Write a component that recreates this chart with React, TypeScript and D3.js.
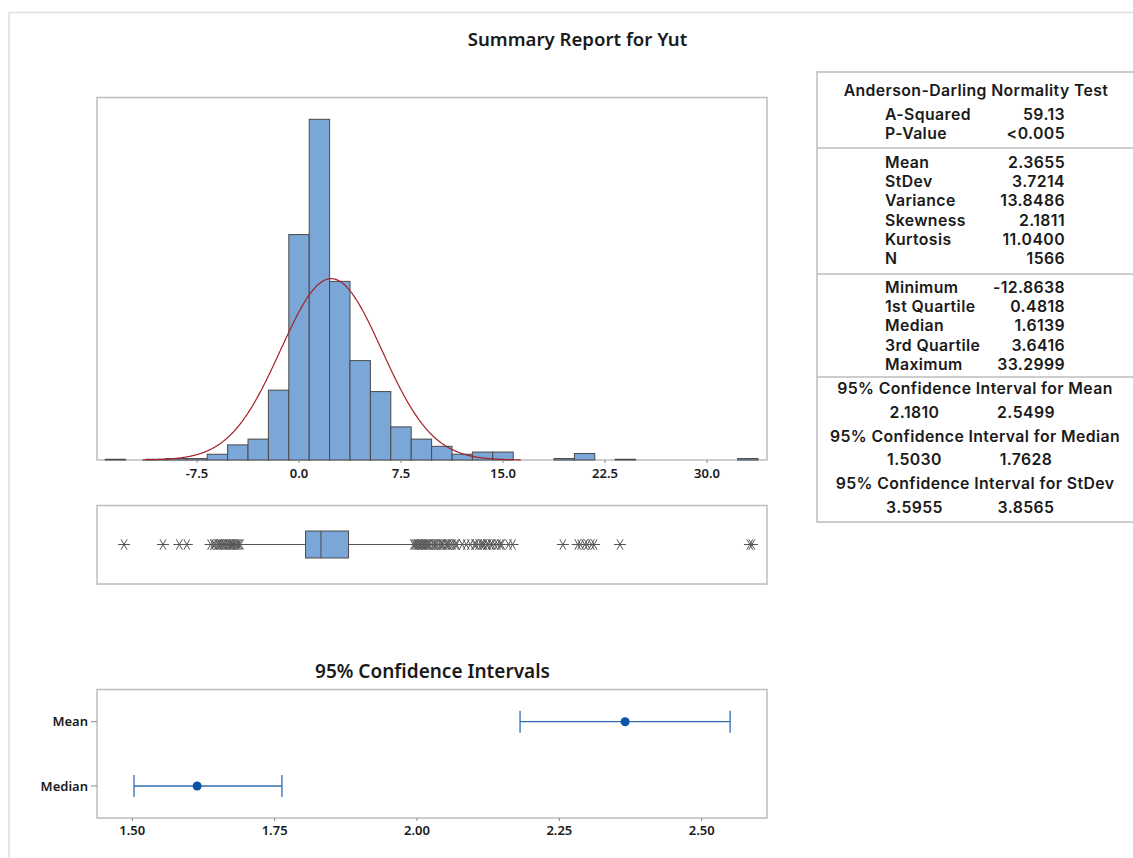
import React from "react";
import * as d3 from "d3";

// ---------- data ----------
const binCenters = [-13.5, -12, -10.5, -9, -7.5, -6, -4.5, -3, -1.5, 0, 1.5, 3, 4.5, 6, 7.5, 9, 10.5, 12, 13.5, 15, 16.5, 18, 19.5, 21, 22.5, 24, 25.5, 27, 28.5, 30, 31.5, 33];
const binCounts = [1, 0, 1, 2, 2, 8, 21, 29, 97, 313, 473, 248, 138, 95, 46, 29, 19, 8, 11, 11, 0, 0, 2, 9, 0, 1, 0, 0, 0, 0, 0, 2];
const binWidth = 1.5;
const histTicks = [-7.5, 0, 7.5, 15, 22.5, 30];

const statMean = 2.3655;
const statStDev = 3.7214;
const statN = 1566;
const q1 = 0.4818;
const medianVal = 1.6139;
const q3 = 3.6416;
const whiskerLow = -4.25;
const whiskerHigh = 8.35;

const lowOutliers = [-12.86, -10.0, -8.8, -8.25, -6.5, -6.3, -6.2, -6.0, -5.9, -5.8, -5.75, -5.6, -5.5, -5.45, -5.3, -5.2, -5.1, -5.0, -4.9, -4.85, -4.7, -4.6, -4.5, -4.4, -4.3];
const highOutliers = [8.4, 8.5, 8.6, 8.7, 8.8, 8.9, 9.0, 9.1, 9.2, 9.3, 9.4, 9.5, 9.6, 9.75, 9.9, 10.0, 10.1, 10.25, 10.4, 10.5, 10.6, 10.8, 10.9, 11.0, 11.15, 11.3, 11.5, 11.6, 12.0, 12.3, 12.6, 12.9, 13.0, 13.2, 13.4, 13.5, 13.6, 13.8, 13.9, 14.1, 14.2, 14.4, 14.6, 14.8, 14.9, 15.4, 15.7, 19.4, 20.5, 20.7, 21.0, 21.2, 21.5, 21.7, 23.6, 33.15, 33.3];

const ciNames = ["Mean", "Median"];
const ciLow = [2.181, 1.503];
const ciHigh = [2.5499, 1.7628];
const ciPoint = [2.3655, 1.6139];
const ciTicks = [1.5, 1.75, 2.0, 2.25, 2.5];

const adRows = [["A-Squared", "59.13"], ["P-Value", "<0.005"]];
const momentRows = [["Mean", "2.3655"], ["StDev", "3.7214"], ["Variance", "13.8486"], ["Skewness", "2.1811"], ["Kurtosis", "11.0400"], ["N", "1566"]];
const quantRows = [["Minimum", "-12.8638"], ["1st Quartile", "0.4818"], ["Median", "1.6139"], ["3rd Quartile", "3.6416"], ["Maximum", "33.2999"]];
const ciTableTitles = ["95% Confidence Interval for Mean", "95% Confidence Interval for Median", "95% Confidence Interval for StDev"];
const ciTableLow = ["2.1810", "1.5030", "3.5955"];
const ciTableHigh = ["2.5499", "1.7628", "3.8565"];

// ---------- style ----------
const FONT = "'Segoe UI', 'Noto Sans', 'Open Sans', sans-serif";
const TABLE_FONT = "Inter, 'Noto Sans', sans-serif";
const TXT = "#1a1a1a";
const FRAME = "#bdbdbd";
const BAR_FILL = "#7ba7d8";
const BAR_STROKE = "#4a4a4a";

function Asterisk({ x, y }: { x: number; y: number }) {
  const r = 6;
  const dx = r * Math.cos(Math.PI / 3);
  const dy = r * Math.sin(Math.PI / 3);
  return (
    <g stroke="#555" strokeWidth={1} fill="none">
      <line x1={x - r} y1={y} x2={x + r} y2={y} />
      <line x1={x - dx} y1={y - dy} x2={x + dx} y2={y + dy} />
      <line x1={x - dx} y1={y + dy} x2={x + dx} y2={y - dy} />
    </g>
  );
}

export default function App() {
  // histogram geometry
  const hx = d3.scaleLinear().domain([-14.853, 34.41]).range([97, 767]);
  const hy = d3.scaleLinear().domain([0, 504]).range([460, 97]);

  const pdfScale = statN * binWidth;
  const curvePts = d3.range(-11.5, 16.35, 0.05).map((v) => {
    const z = (v - statMean) / statStDev;
    const dens = Math.exp(-0.5 * z * z) / (statStDev * Math.sqrt(2 * Math.PI));
    return [v, dens * pdfScale] as [number, number];
  });
  const curve = d3
    .line<[number, number]>()
    .x((d) => hx(d[0]))
    .y((d) => hy(d[1]))
    .curve(d3.curveBasis)(curvePts);

  // boxplot
  const boxTop = 531;
  const boxBot = 558;
  const boxMid = (boxTop + boxBot) / 2;

  // CI plot
  const cx = d3.scaleLinear().domain([1.438, 2.6147]).range([97, 767]);
  const cy = d3.scalePoint<string>().domain(ciNames).range([721.7, 786]);

  const labelX = 885;
  const valueX = 1065;
  const rowText = (rows: string[][], startY: number) =>
    rows.map((r, i) => (
      <g key={r[0]}>
        <text x={labelX} y={startY + i * 19.2}>{r[0]}</text>
        <text x={valueX} y={startY + i * 19.2} textAnchor="end">{r[1]}</text>
      </g>
    ));

  return (
    <svg
      width={1133}
      height={858}
      style={{ position: "absolute", left: 0, top: 0, background: "#fff" }}
      fontFamily={FONT}
    >
      <rect x={0} y={0} width={1133} height={858} fill="#fff" />
      {/* outer border */}
      <line x1={9} y1={12.5} x2={1133} y2={12.5} stroke="#dedede" strokeWidth={1.5} />
      <line x1={9} y1={12.5} x2={9} y2={858} stroke="#dedede" strokeWidth={1.5} />

      {/* main title */}
      <text x={577.5} y={46} textAnchor="middle" fontSize={18.6} fontWeight={600} fill={TXT}>
        Summary Report for Yut
      </text>

      {/* histogram */}
      <rect x={97} y={97.5} width={670} height={362.5} fill="none" stroke={FRAME} strokeWidth={1.5} />
      {binCenters.map((c, i) =>
        binCounts[i] > 0 ? (
          <rect
            key={c}
            x={hx(c - binWidth / 2)}
            y={hy(binCounts[i])}
            width={hx(c + binWidth / 2) - hx(c - binWidth / 2)}
            height={hy(0) - hy(binCounts[i])}
            fill={BAR_FILL}
            stroke={BAR_STROKE}
            strokeWidth={1}
          />
        ) : null
      )}
      <path d={curve || ""} fill="none" stroke="#a3202a" strokeWidth={1.2} />
      {histTicks.map((t) => (
        <g key={t}>
          <line x1={hx(t)} x2={hx(t)} y1={460} y2={463} stroke="#888" />
          <text x={hx(t)} y={478} textAnchor="middle" fontSize={13} fontWeight={600} fill={TXT}>
            {t.toFixed(1)}
          </text>
        </g>
      ))}

      {/* boxplot */}
      <rect x={97} y={505.5} width={670} height={78.5} fill="none" stroke={FRAME} strokeWidth={1.5} />
      <line x1={hx(whiskerLow)} x2={hx(q1)} y1={boxMid} y2={boxMid} stroke="#555" strokeWidth={1.2} />
      <line x1={hx(q3)} x2={hx(whiskerHigh)} y1={boxMid} y2={boxMid} stroke="#555" strokeWidth={1.2} />
      <rect
        x={hx(q1)}
        y={boxTop}
        width={hx(q3) - hx(q1)}
        height={boxBot - boxTop}
        fill={BAR_FILL}
        stroke={BAR_STROKE}
        strokeWidth={1}
      />
      <line x1={hx(medianVal)} x2={hx(medianVal)} y1={boxTop} y2={boxBot} stroke={BAR_STROKE} strokeWidth={1} />
      {lowOutliers.concat(highOutliers).map((v, i) => (
        <Asterisk key={i} x={hx(v)} y={boxMid} />
      ))}

      {/* CI plot */}
      <text x={432.5} y={678} textAnchor="middle" fontSize={19} fontWeight={600} fill={TXT}>
        95% Confidence Intervals
      </text>
      <rect x={97} y={689.5} width={670} height={128.5} fill="none" stroke={FRAME} strokeWidth={1.5} />
      {ciNames.map((n, i) => {
        const y = cy(n) as number;
        return (
          <g key={n}>
            <line x1={91} x2={97} y1={y} y2={y} stroke="#888" />
            <text x={88} y={y + 4.5} textAnchor="end" fontSize={13} fontWeight={600} fill={TXT}>
              {n}
            </text>
            <line x1={cx(ciLow[i])} x2={cx(ciHigh[i])} y1={y} y2={y} stroke="#2f6db5" strokeWidth={1.3} />
            <line x1={cx(ciLow[i])} x2={cx(ciLow[i])} y1={y - 11} y2={y + 11} stroke="#2f6db5" strokeWidth={1.3} />
            <line x1={cx(ciHigh[i])} x2={cx(ciHigh[i])} y1={y - 11} y2={y + 11} stroke="#2f6db5" strokeWidth={1.3} />
            <circle cx={cx(ciPoint[i])} cy={y} r={4.5} fill="#0b55a6" />
          </g>
        );
      })}
      {ciTicks.map((t) => (
        <g key={t}>
          <line x1={cx(t)} x2={cx(t)} y1={818} y2={821} stroke="#888" />
          <text x={cx(t)} y={835} textAnchor="middle" fontSize={13} fontWeight={600} fill={TXT}>
            {t.toFixed(2)}
          </text>
        </g>
      ))}

      {/* stats table */}
      <rect x={817} y={72} width={330} height={450} fill="none" stroke={FRAME} strokeWidth={1.5} />
      <line x1={817} x2={1133} y1={148} y2={148} stroke={FRAME} strokeWidth={1.5} />
      <line x1={817} x2={1133} y1={274} y2={274} stroke={FRAME} strokeWidth={1.5} />
      <line x1={817} x2={1133} y1={377} y2={377} stroke={FRAME} strokeWidth={1.5} />
      <g fontSize={15.8} fontWeight={600} fill={TXT} fontFamily={TABLE_FONT} letterSpacing={0.4}>
        <text x={976} y={96} textAnchor="middle">Anderson-Darling Normality Test</text>
        {rowText(adRows, 120)}
        {rowText(momentRows, 168)}
        {rowText(quantRows, 293)}
        {ciTableTitles.map((t, i) => (
          <g key={t}>
            <text x={975} y={394 + i * 47.5} textAnchor="middle">{t}</text>
            <text x={914.5} y={417.5 + i * 47.5} textAnchor="middle">{ciTableLow[i]}</text>
            <text x={1026} y={417.5 + i * 47.5} textAnchor="middle">{ciTableHigh[i]}</text>
          </g>
        ))}
      </g>
    </svg>
  );
}
